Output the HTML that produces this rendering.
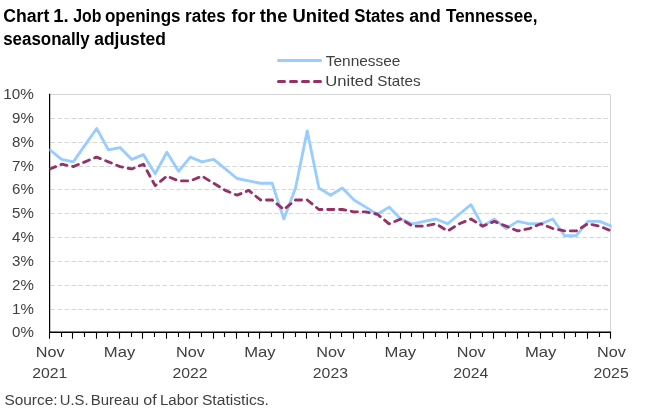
<!DOCTYPE html>
<html lang="en"><head><meta charset="utf-8"><title>Chart 1. Job openings rates for the United States and Tennessee, seasonally adjusted</title>
<style>html,body{margin:0;padding:0;background:#fff;}svg{display:block;}text{font-family:"Liberation Sans",sans-serif;}</style>
</head><body>
<svg width="647" height="412" viewBox="0 0 647 412">
<rect x="0" y="0" width="647" height="412" fill="#ffffff"/>
<text x="3.20" y="21.50" font-size="18.8" font-weight="bold" fill="#000000" textLength="46.13" lengthAdjust="spacingAndGlyphs">Chart</text>
<text x="53.16" y="21.50" font-size="18.8" font-weight="bold" fill="#000000" textLength="15.55" lengthAdjust="spacingAndGlyphs">1.</text>
<text x="73.24" y="21.50" font-size="18.8" font-weight="bold" fill="#000000" textLength="28.22" lengthAdjust="spacingAndGlyphs">Job</text>
<text x="104.90" y="21.50" font-size="18.8" font-weight="bold" fill="#000000" textLength="75.69" lengthAdjust="spacingAndGlyphs">openings</text>
<text x="185.03" y="21.50" font-size="18.8" font-weight="bold" fill="#000000" textLength="40.76" lengthAdjust="spacingAndGlyphs">rates</text>
<text x="231.62" y="21.50" font-size="18.8" font-weight="bold" fill="#000000" textLength="23.69" lengthAdjust="spacingAndGlyphs">for</text>
<text x="259.64" y="21.50" font-size="18.8" font-weight="bold" fill="#000000" textLength="27.85" lengthAdjust="spacingAndGlyphs">the</text>
<text x="292.52" y="21.50" font-size="18.8" font-weight="bold" fill="#000000" textLength="57.31" lengthAdjust="spacingAndGlyphs">United</text>
<text x="354.26" y="21.50" font-size="18.8" font-weight="bold" fill="#000000" textLength="50.23" lengthAdjust="spacingAndGlyphs">States</text>
<text x="409.22" y="21.50" font-size="18.8" font-weight="bold" fill="#000000" textLength="31.47" lengthAdjust="spacingAndGlyphs">and</text>
<text x="446.03" y="21.50" font-size="18.8" font-weight="bold" fill="#000000" textLength="91.38" lengthAdjust="spacingAndGlyphs">Tennessee,</text>
<text x="3.20" y="45.40" font-size="18.8" font-weight="bold" fill="#000000" textLength="86.55" lengthAdjust="spacingAndGlyphs">seasonally</text>
<text x="94.26" y="45.40" font-size="18.8" font-weight="bold" fill="#000000" textLength="71.70" lengthAdjust="spacingAndGlyphs">adjusted</text>
<path d="M49.5 94.5 H610.5 V332.5" fill="none" stroke="#d4d4d4" stroke-width="1"/>
<line x1="50.5" x2="610.5" y1="309.5" y2="309.5" stroke="#d6d6d6" stroke-width="1" stroke-dasharray="4.5 2.5"/>
<line x1="50.5" x2="610.5" y1="285.5" y2="285.5" stroke="#d6d6d6" stroke-width="1" stroke-dasharray="4.5 2.5"/>
<line x1="50.5" x2="610.5" y1="261.5" y2="261.5" stroke="#d6d6d6" stroke-width="1" stroke-dasharray="4.5 2.5"/>
<line x1="50.5" x2="610.5" y1="237.5" y2="237.5" stroke="#d6d6d6" stroke-width="1" stroke-dasharray="4.5 2.5"/>
<line x1="50.5" x2="610.5" y1="213.5" y2="213.5" stroke="#d6d6d6" stroke-width="1" stroke-dasharray="4.5 2.5"/>
<line x1="50.5" x2="610.5" y1="189.5" y2="189.5" stroke="#d6d6d6" stroke-width="1" stroke-dasharray="4.5 2.5"/>
<line x1="50.5" x2="610.5" y1="166.5" y2="166.5" stroke="#d6d6d6" stroke-width="1" stroke-dasharray="4.5 2.5"/>
<line x1="50.5" x2="610.5" y1="142.5" y2="142.5" stroke="#d6d6d6" stroke-width="1" stroke-dasharray="4.5 2.5"/>
<line x1="50.5" x2="610.5" y1="118.5" y2="118.5" stroke="#d6d6d6" stroke-width="1" stroke-dasharray="4.5 2.5"/>
<line x1="49.6" x2="49.6" y1="93.7" y2="333.1" stroke="#000" stroke-width="1.25"/>
<line x1="49.0" x2="611.1" y1="332.15" y2="332.15" stroke="#000" stroke-width="1.5"/>
<path d="M49.5 332.5v6.3M61.5 332.5v4.6M72.5 332.5v6.3M84.5 332.5v4.6M96.5 332.5v6.3M107.5 332.5v4.6M119.5 332.5v6.3M131.5 332.5v4.6M142.5 332.5v6.3M154.5 332.5v4.6M166.5 332.5v6.3M178.5 332.5v4.6M189.5 332.5v6.3M201.5 332.5v4.6M213.5 332.5v6.3M224.5 332.5v4.6M236.5 332.5v6.3M248.5 332.5v4.6M259.5 332.5v6.3M271.5 332.5v4.6M283.5 332.5v6.3M295.5 332.5v4.6M306.5 332.5v6.3M318.5 332.5v4.6M330.5 332.5v6.3M341.5 332.5v4.6M353.5 332.5v6.3M365.5 332.5v4.6M376.5 332.5v6.3M388.5 332.5v4.6M400.5 332.5v6.3M411.5 332.5v4.6M423.5 332.5v6.3M435.5 332.5v4.6M447.5 332.5v6.3M458.5 332.5v4.6M470.5 332.5v6.3M482.5 332.5v4.6M493.5 332.5v6.3M505.5 332.5v4.6M517.5 332.5v6.3M528.5 332.5v4.6M540.5 332.5v6.3M552.5 332.5v4.6M564.5 332.5v6.3M575.5 332.5v4.6M587.5 332.5v6.3M599.5 332.5v4.6M610.5 332.5v6.3" stroke="#000" stroke-width="1.1" fill="none"/>
<text x="12.03" y="337.40" font-size="15.0" fill="#404040" textLength="21.77" lengthAdjust="spacingAndGlyphs">0%</text>
<text x="12.03" y="313.57" font-size="15.0" fill="#404040" textLength="21.77" lengthAdjust="spacingAndGlyphs">1%</text>
<text x="12.03" y="289.74" font-size="15.0" fill="#404040" textLength="21.77" lengthAdjust="spacingAndGlyphs">2%</text>
<text x="12.03" y="265.91" font-size="15.0" fill="#404040" textLength="21.77" lengthAdjust="spacingAndGlyphs">3%</text>
<text x="12.03" y="242.08" font-size="15.0" fill="#404040" textLength="21.77" lengthAdjust="spacingAndGlyphs">4%</text>
<text x="12.03" y="218.25" font-size="15.0" fill="#404040" textLength="21.77" lengthAdjust="spacingAndGlyphs">5%</text>
<text x="12.03" y="194.42" font-size="15.0" fill="#404040" textLength="21.77" lengthAdjust="spacingAndGlyphs">6%</text>
<text x="12.03" y="170.59" font-size="15.0" fill="#404040" textLength="21.77" lengthAdjust="spacingAndGlyphs">7%</text>
<text x="12.03" y="146.76" font-size="15.0" fill="#404040" textLength="21.77" lengthAdjust="spacingAndGlyphs">8%</text>
<text x="12.03" y="122.93" font-size="15.0" fill="#404040" textLength="21.77" lengthAdjust="spacingAndGlyphs">9%</text>
<text x="3.25" y="99.10" font-size="15.0" fill="#404040" textLength="30.55" lengthAdjust="spacingAndGlyphs">10%</text>
<text x="35.67" y="356.6" font-size="15.0" fill="#404040" textLength="28.88" lengthAdjust="spacingAndGlyphs">Nov</text>
<text x="32.15" y="377.8" font-size="15.0" fill="#404040" textLength="35.12" lengthAdjust="spacingAndGlyphs">2021</text>
<text x="103.87" y="356.6" font-size="15.0" fill="#404040" textLength="31.43" lengthAdjust="spacingAndGlyphs">May</text>
<text x="176.02" y="356.6" font-size="15.0" fill="#404040" textLength="28.88" lengthAdjust="spacingAndGlyphs">Nov</text>
<text x="172.50" y="377.8" font-size="15.0" fill="#404040" textLength="35.12" lengthAdjust="spacingAndGlyphs">2022</text>
<text x="244.23" y="356.6" font-size="15.0" fill="#404040" textLength="31.43" lengthAdjust="spacingAndGlyphs">May</text>
<text x="316.37" y="356.6" font-size="15.0" fill="#404040" textLength="28.88" lengthAdjust="spacingAndGlyphs">Nov</text>
<text x="312.85" y="377.8" font-size="15.0" fill="#404040" textLength="35.12" lengthAdjust="spacingAndGlyphs">2023</text>
<text x="384.58" y="356.6" font-size="15.0" fill="#404040" textLength="31.43" lengthAdjust="spacingAndGlyphs">May</text>
<text x="456.73" y="356.6" font-size="15.0" fill="#404040" textLength="28.88" lengthAdjust="spacingAndGlyphs">Nov</text>
<text x="453.20" y="377.8" font-size="15.0" fill="#404040" textLength="35.12" lengthAdjust="spacingAndGlyphs">2024</text>
<text x="524.93" y="356.6" font-size="15.0" fill="#404040" textLength="31.43" lengthAdjust="spacingAndGlyphs">May</text>
<text x="597.08" y="356.6" font-size="15.0" fill="#404040" textLength="28.88" lengthAdjust="spacingAndGlyphs">Nov</text>
<text x="593.56" y="377.8" font-size="15.0" fill="#404040" textLength="35.12" lengthAdjust="spacingAndGlyphs">2025</text>
<clipPath id="plotclip"><rect x="49.41" y="80" width="562.31" height="260"/></clipPath>
<g clip-path="url(#plotclip)">
<path d="M49.91 149.91 L61.61 159.44 L73.30 161.82 L85.00 145.14 L96.69 128.46 L108.39 149.91 L120.09 147.53 L131.78 159.44 L143.48 154.67 L155.17 173.74 L166.87 152.29 L178.57 171.36 L190.26 157.06 L201.96 161.82 L213.65 159.44 L225.35 168.97 L237.05 178.50 L248.74 180.89 L260.44 183.27 L272.13 183.27 L283.83 219.02 L295.53 188.04 L307.22 130.84 L318.92 188.04 L330.61 195.19 L342.31 188.04 L354.01 199.95 L365.70 207.10 L377.40 214.25 L389.09 207.10 L400.79 219.02 L412.49 223.78 L424.18 221.40 L435.88 219.02 L447.57 223.78 L459.27 214.25 L470.97 204.72 L482.66 226.16 L494.36 219.02 L506.05 228.55 L517.75 221.40 L529.45 223.78 L541.14 223.78 L552.84 219.02 L564.53 235.70 L576.23 235.70 L587.93 221.40 L599.62 221.40 L611.32 226.16" fill="none" stroke="#99ccff" stroke-width="2.85" stroke-linejoin="round" stroke-linecap="round"/>
<path d="M49.91 168.97 L61.61 164.21 L73.30 166.59 L85.00 161.82 L96.69 157.06 L108.39 161.82 L120.09 166.59 L131.78 168.97 L143.48 164.21 L155.17 185.65 L166.87 176.12 L178.57 180.89 L190.26 180.89 L201.96 176.12 L213.65 183.27 L225.35 190.42 L237.05 195.19 L248.74 190.42 L260.44 199.95 L272.13 199.95 L283.83 209.48 L295.53 199.95 L307.22 199.95 L318.92 209.48 L330.61 209.48 L342.31 209.48 L354.01 211.87 L365.70 211.87 L377.40 214.25 L389.09 223.78 L400.79 219.02 L412.49 226.16 L424.18 226.16 L435.88 223.78 L447.57 230.93 L459.27 223.78 L470.97 219.02 L482.66 226.16 L494.36 221.40 L506.05 226.16 L517.75 230.93 L529.45 228.55 L541.14 223.78 L552.84 228.55 L564.53 230.93 L576.23 230.93 L587.93 223.78 L599.62 226.16 L611.32 230.93" fill="none" stroke="#963165" stroke-width="2.85" stroke-linejoin="round" stroke-linecap="round" stroke-dasharray="6.2 5.7"/>
</g>
<line x1="278.5" x2="320.6" y1="60.4" y2="60.4" stroke="#99ccff" stroke-width="3" stroke-linecap="round"/>
<line x1="278.5" x2="320.6" y1="81.4" y2="81.4" stroke="#963165" stroke-width="3" stroke-linecap="round" stroke-dasharray="6 6"/>
<text x="325.8" y="65.5" font-size="15.0" fill="#404040" textLength="74.67" lengthAdjust="spacingAndGlyphs">Tennessee</text>
<text x="325.20" y="86.40" font-size="15.0" font-weight="normal" fill="#404040" textLength="48.13" lengthAdjust="spacingAndGlyphs">United</text>
<text x="377.30" y="86.40" font-size="15.0" font-weight="normal" fill="#404040" textLength="43.22" lengthAdjust="spacingAndGlyphs">States</text>
<text x="4.40" y="404.90" font-size="15.5" font-weight="normal" fill="#404040" textLength="53.20" lengthAdjust="spacingAndGlyphs">Source:</text>
<text x="59.83" y="404.90" font-size="15.5" font-weight="normal" fill="#404040" textLength="28.71" lengthAdjust="spacingAndGlyphs">U.S.</text>
<text x="90.78" y="404.90" font-size="15.5" font-weight="normal" fill="#404040" textLength="48.22" lengthAdjust="spacingAndGlyphs">Bureau</text>
<text x="143.32" y="404.90" font-size="15.5" font-weight="normal" fill="#404040" textLength="13.39" lengthAdjust="spacingAndGlyphs">of</text>
<text x="159.95" y="404.90" font-size="15.5" font-weight="normal" fill="#404040" textLength="38.46" lengthAdjust="spacingAndGlyphs">Labor</text>
<text x="201.94" y="404.90" font-size="15.5" font-weight="normal" fill="#404040" textLength="66.96" lengthAdjust="spacingAndGlyphs">Statistics.</text>
</svg>
</body></html>
